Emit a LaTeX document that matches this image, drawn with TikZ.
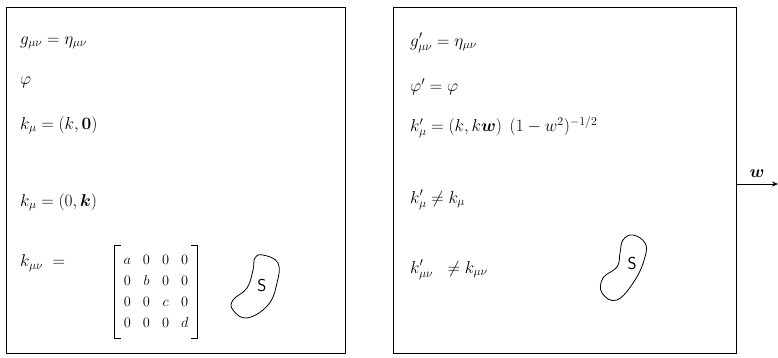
\documentclass[tikz,border=0pt]{standalone}
\usepackage{amsmath,amssymb}
\usepackage{tikz}
\usetikzlibrary{arrows.meta}

\begin{document}
\begin{tikzpicture}[
  x=1pt, y=-1pt,
  frame/.style={rectangle, draw, line width=0.8pt, inner sep=0pt, outer sep=0pt},
  eq/.style={anchor=west, font=\fontsize{18}{22}\selectfont, inner sep=0pt},
  mat/.style={inner sep=0pt, minimum width=82pt, minimum height=92pt, font=\fontsize{14}{17}\selectfont},
  blob/.style={draw, line width=0.8pt, smooth cycle, tension=0.7},
  arr/.style={-{Stealth[length=6pt,width=5pt]}, line width=0.8pt}
]
\useasboundingbox (0,0) rectangle (778,357);
\node[frame, minimum width=339pt, minimum height=346pt] (L) at (175.5,180) {};
\node[frame, minimum width=343pt, minimum height=346pt] (R) at (564.5,180) {};

\node[eq] (L1) at (20,43)  {$g_{\mu\nu}=\eta_{\mu\nu}$};
\node[eq] (L2) at (20,82)  {$\varphi$};
\node[eq] (L3) at (20,125) {$k_\mu=(k,\mathbf{0})$};
\node[eq] (L4) at (20,202) {$k_\mu=(0,\boldsymbol{k})$};
\node[eq] (L5) at (20,263) {$k_{\mu\nu}\;=$};
\node[mat] (M) at (156,292) {\setlength{\arraycolsep}{6pt}\renewcommand{\arraystretch}{1.24}%
  $\begin{array}{cccc} a&0&0&0\\ 0&b&0&0\\ 0&0&c&0\\ 0&0&0&d \end{array}$};
\draw[line width=0.8pt] ([xshift=6pt]M.north west) -- (M.north west) -- (M.south west) -- ([xshift=6pt]M.south west);
\draw[line width=0.8pt] ([xshift=-6pt]M.north east) -- (M.north east) -- (M.south east) -- ([xshift=-6pt]M.south east);

\draw[blob] plot coordinates {(263,255) (278,263) (277,283) (268,305) (247,318) (233,310) (233,300) (247,288) (253,270) (255,258)};
\node[font=\LARGE\sffamily] (S1) at (262,285) {S};

\node[eq] (R1) at (410,43)  {$g'_{\mu\nu}=\eta_{\mu\nu}$};
\node[eq] (R2) at (410,87)  {$\varphi'=\varphi$};
\node[eq] (R3) at (410,127) {$k'_\mu=(k,k\boldsymbol{w})\;\,(1-w^2)^{-1/2}$};
\node[eq] (R4) at (410,200) {$k'_\mu\neq k_\mu$};
\node[eq] (R5) at (410,270) {$k'_{\mu\nu}\;\;\neq k_{\mu\nu}$};

\draw[blob] plot coordinates {(633,235) (645,243) (645,257) (635,280) (617,300) (602,293) (603,278) (617,267) (620,253) (623,240)};
\node[font=\LARGE\sffamily] (S2) at (632,263) {S};

\coordinate (wend) at (778,184);
\draw[arr] (R.east |- wend) -- (wend) node[midway, above=3pt, font=\LARGE] (W) {$\boldsymbol{w}$};
\end{tikzpicture}
\end{document}
